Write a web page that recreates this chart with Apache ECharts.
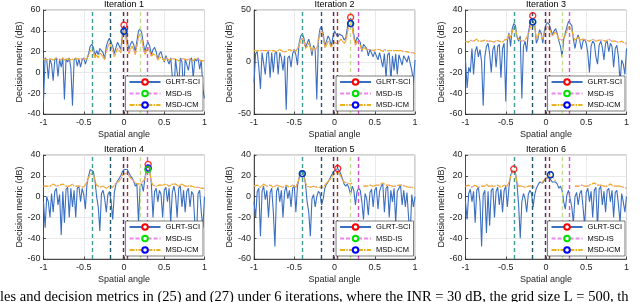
<!DOCTYPE html>
<html><head><meta charset="utf-8">
<script src="https://cdn.jsdelivr.net/npm/echarts@6/dist/echarts.min.js"></script>
<style>html,body{margin:0;padding:0;background:#fff;overflow:hidden}#c{width:640px;height:302px}</style>
</head><body><div id="c"></div>
<script>
// ---------- data ----------
const angles = [-1,-0.98,-0.96,-0.94,-0.92,-0.9,-0.88,-0.86,-0.84,-0.82,-0.8,-0.78,-0.76,-0.74,-0.72,-0.7,-0.68,-0.66,-0.64,-0.62,-0.6,-0.58,-0.56,-0.54,-0.52,-0.5,-0.48,-0.46,-0.44,-0.42,-0.4,-0.38,-0.36,-0.34,-0.32,-0.3,-0.28,-0.26,-0.24,-0.22,-0.2,-0.18,-0.16,-0.14,-0.12,-0.1,-0.08,-0.06,-0.04,-0.02,0,0.02,0.04,0.06,0.08,0.1,0.12,0.14,0.16,0.18,0.2,0.22,0.24,0.26,0.28,0.3,0.32,0.34,0.36,0.38,0.4,0.42,0.44,0.46,0.48,0.5,0.52,0.54,0.56,0.58,0.6,0.62,0.64,0.66,0.68,0.7,0.72,0.74,0.76,0.78,0.8,0.82,0.84,0.86,0.88,0.9,0.92,0.94,0.96,0.98,1];

const titles = ['Iteration 1','Iteration 2','Iteration 3','Iteration 4','Iteration 5','Iteration 6'];
const yMin = [-40,-50,-60,-60,-60,-60];
const yMax = [60,50,40,40,40,40];
const yStep = [20,50,20,20,20,20];
const legendNames = ['GLRT-SCI','MSD-IS','MSD-ICM'];
const trueAngles = [-0.4,-0.165,-0.005,0.04,0.195,0.29];

// GLRT-SCI decision metric (dB)
const glrt1 = [-28,14,12,-6,13,8,-8,12,14,-4,13,5,14,-26,13,10,14,4,-32,12,14,6,13,5,12,14,8,13,18,25,27,24,16,21,17,23,24,19,13,25,30,33,32,25,18,24,29,28,22,36,45,40,30,22,27,30,27,20,30,40,42,38,28,20,26,29,25,17,22,24,20,12,18,20,14,10,16,17,8,14,15,-22,13,12,-12,14,10,-20,13,14,2,12,14,-5,13,11,14,3,12,-16,-25];
const glrt2 = [-20,8,10,-5,-26,9,10,-12,8,10,-15,9,-10,8,10,-12,9,4,-8,6,-46,4,6,-5,8,12,7,-3,18,25,27,23,14,18,22,16,6,16,12,-36,22,32,34,27,16,20,25,22,15,24,30,29,24,27,28,25,21,23,33,40,42,38,26,18,24,25,19,10,17,18,13,6,12,13,5,10,11,2,9,10,-5,8,-15,7,9,-18,6,-8,8,-12,7,8,-3,6,7,0,6,5,-8,-20,2];
const glrt3 = [-8,-35,-15,-20,3,-22,0,5,-5,2,-10,-52,-5,5,8,-2,-20,2,6,-15,5,7,-25,3,8,-48,10,18,5,22,27,25,14,10,15,-45,5,10,0,18,26,32,33,26,8,12,21,18,8,20,26,28,26,21,16,20,22,17,10,5,-5,12,18,24,29,30,25,12,3,12,16,10,2,10,12,8,-2,-20,5,10,8,-5,-12,6,10,4,-8,8,10,0,8,5,-15,3,6,-5,-30,-8,-12,-22,3];
const glrt4 = [-5,-30,0,-5,-20,3,-15,5,8,-8,2,-37,5,-25,7,9,-20,8,-10,6,-20,8,10,-5,8,2,-12,12,20,26,27,24,15,0,-10,-33,3,6,-2,-15,2,5,-5,-22,4,12,15,16,20,24,26,27,26,23,20,18,15,10,12,-25,10,12,5,18,27,30,26,12,-20,5,8,-5,6,2,-20,6,9,-5,8,-25,4,10,2,-20,8,10,-10,6,-15,5,8,-10,5,2,-25,-40,3,6,-15,-30,0];
const glrt5 = [-5,-20,5,8,-38,5,10,-3,6,-20,4,8,-15,-48,5,9,-5,6,-20,5,10,-2,6,-10,8,11,-15,10,18,23,25,22,12,-5,-15,-38,-2,2,-10,0,5,3,-8,-2,8,12,14,17,20,23,25,26,27,25,21,17,12,10,12,8,2,10,6,-8,5,8,6,-5,-22,3,-2,-18,4,7,-10,6,9,-12,5,10,12,-15,8,10,-20,6,-5,8,-25,5,8,11,-8,6,-10,4,-20,-38,2,-10,0];
const glrt6 = [-5,-22,3,7,-5,5,-25,6,9,-5,-48,2,6,-35,5,-28,6,8,-20,5,9,-8,7,-15,6,10,-10,9,20,25,26,23,12,-8,-40,-5,3,-2,-15,2,6,3,-10,2,8,11,14,15,13,16,18,19,18,16,14,13,14,12,8,10,6,-5,-12,2,6,5,-10,-25,0,4,-8,3,6,-10,-28,4,8,-5,5,-20,6,9,-30,7,10,-8,5,-15,6,8,-5,6,-20,4,6,-8,-25,3,-5,-15,0];

// MSD-ICM / MSD-IS decision metric (dB), null = not evaluated
const icm1 = [13,14,12,11,13,12,12,13,14,12,13,12,14,12,13,13,14,12,11,13,14,13,12,13,12,13,12,13,16,21,22,20,14,17,14,19,19,15,12,20,25,28,27,21,15,19,23,22,19,31,40,35,25,18,22,25,22,17,25,34,37,32,23,17,21,24,20,15,18,19,16,12,15,16,13,11,14,14,12,13,13,12,13,12,11,13,12,13,14,12,12,13,12,11,13,12,13,12,11,12,11];
const icm2 = [11,12,11,10,11,12,11,12,11,10,11,12,11,12,10,11,12,11,10,11,10,11,12,11,10,12,10,11,16,21,23,20,13,15,18,14,10,14,11,13,20,28,30,24,14,16,20,18,14,17,19,18,17,20,22,21,18,20,28,35,37,33,23,16,20,21,16,11,14,15,12,11,12,12,11,11,12,11,12,11,10,12,11,11,10,11,12,11,10,11,10,11,10,10,9,10,9,9,8,9,8];
const icm3 = [10,10,9,11,10,10,11,12,10,9,10,10,11,12,10,11,10,10,9,11,12,10,10,9,11,10,12,17,13,19,23,21,15,12,13,10,10,11,11,16,22,27,28,23,13,13,18,16,12,17,22,24,23,19,15,17,19,16,12,11,11,13,16,20,24,25,21,14,11,12,14,11,10,12,12,11,10,10,11,12,11,10,10,11,12,11,10,10,11,12,11,10,9,10,10,9,9,10,9,8,8];
const icm4 = [10,11,10,9,10,11,12,11,10,10,11,10,12,11,10,9,10,11,12,10,9,10,11,10,10,9,10,14,18,22,23,21,15,11,10,9,10,10,9,8,9,10,9,9,10,13,14,15,17,20,22,23,22,20,18,17,15,13,13,12,12,13,12,17,24,26,23,14,11,10,10,9,11,12,11,11,12,11,10,11,12,13,12,11,10,11,12,11,10,9,10,11,10,10,9,10,9,9,8,9,8];
const icm5 = [10,10,11,10,9,10,12,11,10,10,11,10,9,10,11,10,10,11,9,10,11,10,9,10,11,12,9,13,17,20,22,19,13,10,9,9,9,10,9,9,10,9,8,9,11,13,14,16,18,20,22,23,24,22,19,16,14,13,13,12,12,13,null,null,null,null,null,null,10,11,10,9,11,10,10,10,11,10,11,12,13,12,11,10,11,10,10,11,10,10,11,12,11,10,10,10,9,9,9,8,8];
const icm6 = [10,10,11,10,9,10,11,10,9,10,10,11,10,12,10,9,10,11,10,10,11,10,9,10,11,11,10,14,19,23,25,22,14,10,9,10,10,9,10,10,11,10,10,9,null,null,null,13,14,16,18,19,20,21,19,17,15,null,null,null,null,null,null,null,null,null,null,null,10,11,10,10,11,10,10,11,10,11,12,11,13,12,11,10,11,10,10,11,10,11,12,11,10,10,10,9,10,9,9,8,8];
const isv1 = icm1, isv2 = icm2, isv3 = icm3, isv4 = icm4, isv5 = icm5, isv6 = icm6;

// detected peaks [angle, dB]
const peakGlrt = [[0,45.5],[0.2,43],[-0.165,34.5],[0.3,31],[0.04,27],[-0.4,26.5]];
const peakIs   = [[0,39.5],[0.2,37],[-0.165,28.5],[0.295,26],[-0.4,22],[0.055,21]];
const peakIcm  = [[0,39.5],[0.2,37],[-0.165,28.5],[0.302,27.5],[-0.4,22],[0.055,21]];
const greenOnTop = [false,false,false,true,false,false];

// ---------- style ----------
const FONT = 'Liberation Sans, Arial, Helvetica, sans-serif';
const BLUE = '#3b6fc2', PINK = '#ec86ec', ORANGE = '#edb120';
const vColors = ['#3f9c92','#1e5b6c','#5a2a6a','#a23434','#c3dc8f','#d64fd6'];
const lefts = [43.5, 254, 465.5], tops = [10, 155], W = 161, H = 104;
const AX = '#262626';

const glrt = [glrt1,glrt2,glrt3,glrt4,glrt5,glrt6];
const icm = [icm1,icm2,icm3,icm4,icm5,icm6];
const isv = [isv1,isv2,isv3,isv4,isv5,isv6];

const grids = [], xAxes = [], yAxes = [], series = [], legends = [], tits = [];
for (let i = 0; i < 6; i++) {
  const L = lefts[i % 3], T = tops[Math.floor(i / 3)];
  grids.push({left: L, top: T, width: W, height: H, show: true, borderColor: '#8a8a8a', borderWidth: 0.8, backgroundColor: '#fff'});
  xAxes.push({type: 'value', gridIndex: i, min: -1, max: 1, interval: 0.5,
    axisLine: {show: true, onZero: false, lineStyle: {color: AX, width: 0.8}},
    axisTick: {show: true, inside: true, length: 2.5, lineStyle: {color: AX, width: 0.8}},
    axisLabel: {fontSize: 9, color: AX, margin: 4, fontFamily: FONT},
    splitLine: {show: true, lineStyle: {color: '#e3e3e3', width: 0.8}},
    name: 'Spatial angle', nameLocation: 'middle', nameGap: 16,
    nameTextStyle: {fontSize: 9, color: AX, fontFamily: FONT}});
  yAxes.push({type: 'value', gridIndex: i, min: yMin[i], max: yMax[i], interval: yStep[i],
    axisLine: {show: true, onZero: false, lineStyle: {color: AX, width: 0.8}},
    axisTick: {show: true, inside: true, length: 2.5, lineStyle: {color: AX, width: 0.8}},
    axisLabel: {fontSize: 9, color: AX, margin: 3, fontFamily: FONT},
    splitLine: {show: true, lineStyle: {color: '#e3e3e3', width: 0.8}},
    name: 'Decision metric (dB)', nameLocation: 'middle', nameGap: 17, nameRotate: 90,
    nameTextStyle: {fontSize: 9, color: AX, fontFamily: FONT}});
  const pts = a => angles.map((x, j) => [x, a[j]]);
  const common = {type: 'line', xAxisIndex: i, yAxisIndex: i, showSymbol: false, symbol: 'emptyCircle', symbolSize: 6, silent: true, connectNulls: false, animation: false};
  series.push(Object.assign({}, common, {name: 'GLRT-SCI', data: pts(glrt[i]), z: 2,
    itemStyle: {color: '#ff0000'}, lineStyle: {color: BLUE, width: 1.1}}));
  series.push(Object.assign({}, common, {name: 'MSD-IS', data: pts(isv[i]), z: 3,
    itemStyle: {color: '#00e000'}, lineStyle: {color: PINK, width: 1, type: [4, 2]}}));
  series.push(Object.assign({}, common, {name: 'MSD-ICM', data: pts(icm[i]), z: 4,
    itemStyle: {color: '#0000ff'}, lineStyle: {color: ORANGE, width: 1.2, type: [5, 1.2, 1.5, 1.2]},
    markLine: {silent: true, symbol: ['none', 'none'], label: {show: false}, animation: false,
      lineStyle: {type: [4, 3], width: 1.4},
      data: trueAngles.map((v, k) => ({xAxis: v, lineStyle: {color: vColors[k], type: [4, 3], width: 1.4}}))}}));
  const mk = (p, c, z) => ({type: 'scatter', name: 'peak', xAxisIndex: i, yAxisIndex: i, data: [p], symbol: 'circle', symbolSize: 6, silent: true, animation: false, z: z,
    itemStyle: {color: 'rgba(0,0,0,0)', borderColor: c, borderWidth: 1.4}});
  series.push(mk(peakGlrt[i], '#ff0000', 6));
  series.push(mk(peakIs[i], '#00e000', greenOnTop[i] ? 8 : 6));
  series.push(mk(peakIcm[i], '#0000ff', 7));
  legends.push({data: legendNames, orient: 'vertical', right: 640 - (L + W) + 1.5, top: T + 66,
    itemWidth: 31, itemHeight: 7, itemGap: 3.5, padding: [2, 3, 2, 3], z: 20,
    backgroundColor: '#fff', borderColor: AX, borderWidth: 0.6, selectedMode: false,
    textStyle: {fontSize: 7.5, color: '#000', fontFamily: FONT}});
  tits.push({text: titles[i], left: L + W / 2, top: T - 10, textAlign: 'center', padding: 0,
    textStyle: {fontSize: 9, fontWeight: 'normal', color: '#000', fontFamily: FONT}});
}

const chart = echarts.init(document.getElementById('c'), null, {renderer: 'canvas'});
chart.setOption({
  animation: false,
  backgroundColor: '#fff',
  title: tits, grid: grids, xAxis: xAxes, yAxis: yAxes, legend: legends, series: series,
  graphic: [{type: 'text', left: 0, top: 290, silent: true,
    style: {text: 'les and decision metrics in (25) and (27) under 6 iterations, where the INR = 30 dB, the grid size L = 500, th',
      fontSize: 14.5, fontFamily: 'Liberation Serif, Times New Roman, serif', fill: '#000'}}]
});
</script></body></html>
